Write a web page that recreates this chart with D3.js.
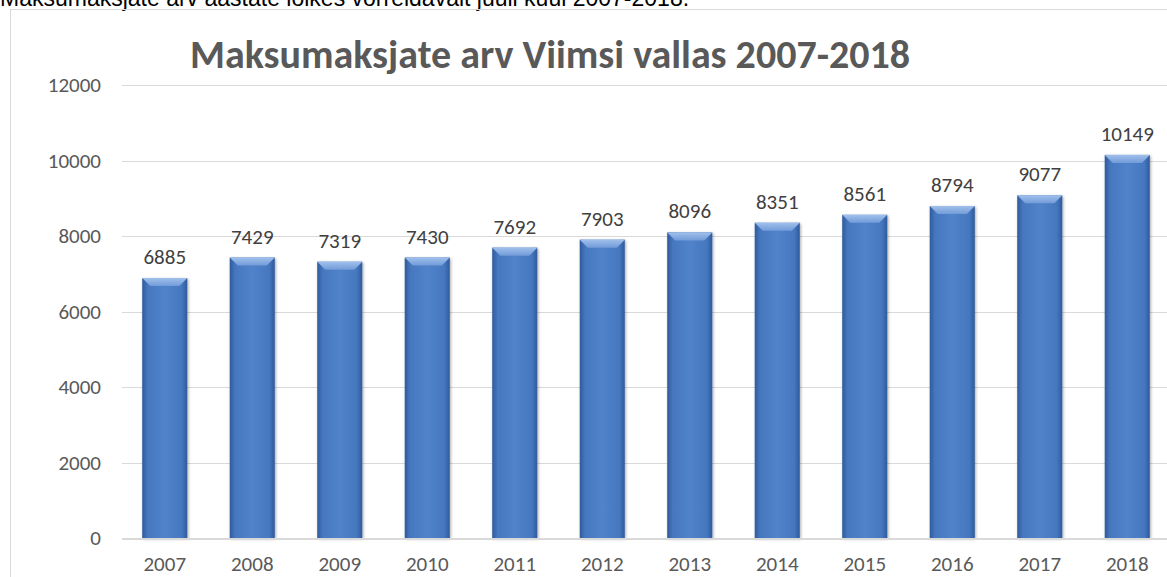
<!DOCTYPE html>
<html>
<head>
<meta charset="utf-8">
<script src="https://cdn.jsdelivr.net/npm/d3@7"></script>
<style>
  body { margin: 0; background: #fff; }
  svg { display: block; }
</style>
</head>
<body>
<svg id="chart" width="1167" height="577"></svg>
<script>
// data
var years = ["2007", "2008", "2009", "2010", "2011", "2012", "2013", "2014", "2015", "2016", "2017", "2018"];
var payers = [6885, 7429, 7319, 7430, 7692, 7903, 8096, 8351, 8561, 8794, 9077, 10149];
var yTicks = [0, 2000, 4000, 6000, 8000, 10000, 12000];

var caption = "Maksumaksjate arv aastate lõikes võrreldavalt juuli kuul 2007-2018.";
var title = "Maksumaksjate arv Viimsi vallas 2007-2018";

var svg = d3.select("#chart");
var defs = svg.append("defs");

var font = "Carlito, Calibri, 'Open Sans', 'Noto Sans', sans-serif";

// bar gradient: dark edges, lighter middle
var g1 = defs.append("linearGradient").attr("id", "barGrad")
    .attr("x1", "0").attr("x2", "1").attr("y1", "0").attr("y2", "0");
g1.append("stop").attr("offset", "0%").attr("stop-color", "#2f5a9c");
g1.append("stop").attr("offset", "12%").attr("stop-color", "#4577bf");
g1.append("stop").attr("offset", "50%").attr("stop-color", "#5083ca");
g1.append("stop").attr("offset", "88%").attr("stop-color", "#4577bf");
g1.append("stop").attr("offset", "100%").attr("stop-color", "#2f5a9c");

var g2 = defs.append("linearGradient").attr("id", "bevelGrad")
    .attr("x1", "0").attr("x2", "0").attr("y1", "0").attr("y2", "1");
g2.append("stop").attr("offset", "0%").attr("stop-color", "#a0c0ec");
g2.append("stop").attr("offset", "100%").attr("stop-color", "#729bd8");

var shadow = defs.append("filter").attr("id", "shadow")
    .attr("x", "-20%").attr("y", "-5%").attr("width", "140%").attr("height", "110%");
shadow.append("feGaussianBlur").attr("in", "SourceAlpha").attr("stdDeviation", 1.5);
shadow.append("feOffset").attr("dx", 1).attr("dy", 1).attr("result", "blur");
shadow.append("feComponentTransfer").append("feFuncA").attr("type", "linear").attr("slope", 0.35);
var merge = shadow.append("feMerge");
merge.append("feMergeNode");
merge.append("feMergeNode").attr("in", "SourceGraphic");

// caption line above the chart, cut off at the top like in the source page
svg.append("text")
    .attr("x", 0).attr("y", 6)
    .attr("font-family", "'Liberation Sans', Arial, sans-serif")
    .attr("font-size", 23)
    .attr("fill", "#000")
    .text(caption);

// chart border
svg.append("rect")
    .attr("x", 10.5).attr("y", 9.5)
    .attr("width", 1170).attr("height", 580)
    .attr("fill", "none")
    .attr("stroke", "#d9d9d9");

var x = d3.scaleBand().domain(years).range([121, 1171]).paddingInner(0.485).paddingOuter(0.2425);
var y = d3.scaleLinear().domain([0, 12000]).range([538, 85]);

// gridlines
svg.append("g").selectAll("line")
    .data(yTicks.filter(function(d) { return d > 0; }))
    .enter().append("line")
    .attr("x1", 122).attr("x2", 1167)
    .attr("y1", function(d) { return Math.round(y(d)) + 0.5; })
    .attr("y2", function(d) { return Math.round(y(d)) + 0.5; })
    .attr("stroke", "#d9d9d9")
    .attr("stroke-width", 1);

// y labels
var yAxis = d3.axisLeft(y).tickValues(yTicks).tickSize(0).tickPadding(0).tickFormat(d3.format("d"));
var ya = svg.append("g").attr("transform", "translate(101,0)").call(yAxis);
ya.select(".domain").remove();
ya.selectAll("text")
    .attr("font-family", font)
    .attr("font-size", 21)
    .attr("fill", "#595959");

// bars
var bars = svg.append("g").selectAll("g.bar")
    .data(years.map(function(d, i) { return { year: d, value: payers[i] }; }))
    .enter().append("g").attr("class", "bar");

bars.append("rect")
    .attr("x", function(d) { return x(d.year); })
    .attr("y", function(d) { return y(d.value); })
    .attr("width", x.bandwidth())
    .attr("height", function(d) { return y(0) - y(d.value); })
    .attr("fill", "url(#barGrad)")
    .attr("filter", "url(#shadow)");

// top bevel
bars.append("path")
    .attr("d", function(d) {
        var x0 = x(d.year), x1 = x0 + x.bandwidth(), t = y(d.value), b = 8;
        return "M" + x0 + "," + t + "L" + x1 + "," + t + "L" + (x1 - b) + "," + (t + b) +
            "L" + (x0 + b) + "," + (t + b) + "Z";
    })
    .attr("fill", "url(#bevelGrad)");

// value labels
bars.append("text")
    .attr("x", function(d) { return x(d.year) + x.bandwidth() / 2; })
    .attr("y", function(d) { return y(d.value) - 14; })
    .attr("text-anchor", "middle")
    .attr("font-family", font)
    .attr("font-size", 21)
    .attr("fill", "#404040")
    .text(function(d) { return d.value; });

// x axis line
svg.append("line")
    .attr("x1", 122).attr("x2", 1167)
    .attr("y1", 539).attr("y2", 539)
    .attr("stroke", "#d9d9d9")
    .attr("stroke-width", 2);

var xAxis = d3.axisBottom(x).tickSize(0).tickPadding(0);
var xa = svg.append("g").attr("transform", "translate(0,556)").call(xAxis);
xa.select(".domain").remove();
xa.selectAll("text")
    .attr("font-family", font)
    .attr("font-size", 21)
    .attr("fill", "#595959");

// title
svg.append("text")
    .attr("x", 550).attr("y", 68)
    .attr("text-anchor", "middle")
    .attr("font-family", font)
    .attr("font-weight", "bold")
    .attr("font-size", 40)
    .attr("fill", "#595959")
    .text(title);
</script>
</body>
</html>
